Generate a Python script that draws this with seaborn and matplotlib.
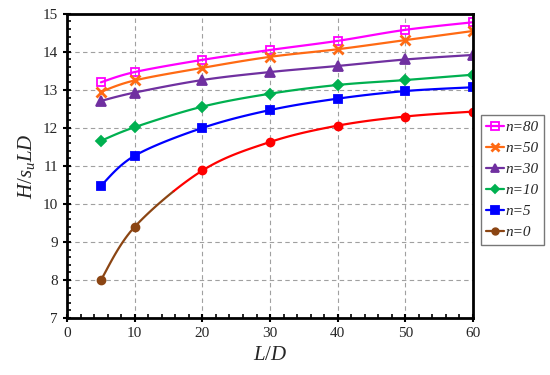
import numpy as np
import pandas as pd
import matplotlib
matplotlib.use("Agg")
import matplotlib.pyplot as plt
import seaborn as sns
from matplotlib.lines import Line2D

L_D = [5, 10, 20, 30, 40, 50, 60]
n80 = [13.20, 13.47, 13.79, 14.05, 14.29, 14.58, 14.78]
n50 = [12.95, 13.25, 13.58, 13.87, 14.07, 14.31, 14.55]
n30 = [12.71, 12.93, 13.26, 13.47, 13.63, 13.80, 13.92]
n10 = [11.66, 12.02, 12.56, 12.90, 13.13, 13.26, 13.40]
n5 = [10.48, 11.27, 12.00, 12.47, 12.77, 12.97, 13.07]
n0 = [8.00, 9.40, 10.88, 11.63, 12.06, 12.30, 12.43]
labels = ["n=80", "n=50", "n=30", "n=10", "n=5", "n=0"]

sns.set_style("ticks")
plt.rcParams["font.family"] = ["Liberation Serif", "DejaVu Serif"]
plt.rcParams["mathtext.fontset"] = "custom"
plt.rcParams["mathtext.it"] = "Liberation Serif:italic"
plt.rcParams["mathtext.rm"] = "Liberation Serif"


def smooth(x, y, k=20):
    x = np.asarray(x, float); y = np.asarray(y, float)
    px = np.concatenate([[x[0]], x, [x[-1]]])
    py = np.concatenate([[y[0]], y, [y[-1]]])
    xs, ys = [], []
    for i in range(1, len(px) - 2):
        p0 = np.array([px[i], py[i]]); p3 = np.array([px[i + 1], py[i + 1]])
        p1 = p0 + (np.array([px[i + 1], py[i + 1]]) - np.array([px[i - 1], py[i - 1]])) / 6
        p2 = p3 - (np.array([px[i + 2], py[i + 2]]) - np.array([px[i], py[i]])) / 6
        t = np.linspace(0, 1, k, endpoint=(i == len(px) - 3))
        b = ((1 - t) ** 3)[:, None] * p0 + (3 * (1 - t) ** 2 * t)[:, None] * p1 \
            + (3 * (1 - t) * t ** 2)[:, None] * p2 + (t ** 3)[:, None] * p3
        xs.extend(b[:, 0]); ys.extend(b[:, 1])
    return np.array(xs), np.array(ys)


fig = plt.figure(figsize=(5.5, 3.75), dpi=100)
ax = fig.add_axes([0.122, 0.152, 0.738, 0.811])

series = [
    (n80, "#FF00FF", "s", "none", 6),
    (n50, "#FF6A13", "x", "#FF6A13", 7),
    (n30, "#7030A0", "^", "#7030A0", 7),
    (n10, "#00B050", "D", "#00B050", 5),
    (n5, "#0000FF", "s", "#0000FF", 6),
]
leg_handles = []
for ys, col, mk, fc, ms in series:
    sx, sy = smooth(L_D, ys)
    sns.lineplot(x=sx, y=sy, ax=ax, color=col, lw=1.6, sort=False, estimator=None)
    mew = 2 if mk == "x" else 1.3
    ax.plot(L_D, ys, ls="none", color=col, marker=mk, mfc=fc, mec=col, ms=ms, mew=mew)
    leg_handles.append(Line2D([], [], color=col, lw=1.6, marker=mk, mfc=fc, mec=col,
                              ms=ms * 0.85, mew=mew))

# n=0 : brown at start, red afterwards
sx, sy = smooth(L_D, n0)
brown = "#8B4513"
i = int(np.searchsorted(sx, 15.5))
sns.lineplot(x=sx[:i + 1], y=sy[:i + 1], ax=ax, color=brown, lw=1.6, sort=False, estimator=None)
sns.lineplot(x=sx[i:], y=sy[i:], ax=ax, color="#FF0000", lw=1.6, sort=False, estimator=None)
ax.plot(L_D[2:], n0[2:], ls="none", marker="o", ms=6, color="#FF0000")
ax.plot(L_D[:2], n0[:2], ls="none", marker="o", ms=6, color=brown)
leg_handles.append(Line2D([], [], color=brown, lw=1.6, marker="o", ms=5))

leg = fig.legend(leg_handles, labels, loc="upper left", bbox_to_anchor=(0.874, 0.693),
                 frameon=True, fancybox=False, edgecolor="#555555", fontsize=11,
                 handlelength=1.15, handletextpad=0.1, labelspacing=0.48, borderpad=0.35,
                 borderaxespad=0)
leg.get_frame().set_linewidth(1.0)
for t in leg.get_texts():
    t.set_fontstyle("italic")

ax.set_xlim(0, 60)
ax.set_ylim(7, 15)
ax.set_xticks(range(0, 61, 10))
ax.set_yticks(range(7, 16))
ax.set_xticks(np.arange(0, 61, 2), minor=True)
ax.set_yticks(np.arange(7, 15.01, 0.2), minor=True)
ax.grid(True, which="major", ls=(0, (4, 3)), color="#A0A0A0", lw=0.8)
ax.tick_params(which="major", direction="inout", length=6, width=1.5, labelsize=11,
               color="black")
ax.tick_params(which="minor", direction="in", length=3, width=1.2, color="black")
for s in ax.spines.values():
    s.set_linewidth(2.0)
    s.set_color("black")
    s.set_visible(True)
ax.set_xlabel("$L/D$", fontsize=15, labelpad=4)
ax.set_ylabel("$H/s_uLD$", fontsize=15, labelpad=4)

fig.savefig("out.png", dpi=100)
